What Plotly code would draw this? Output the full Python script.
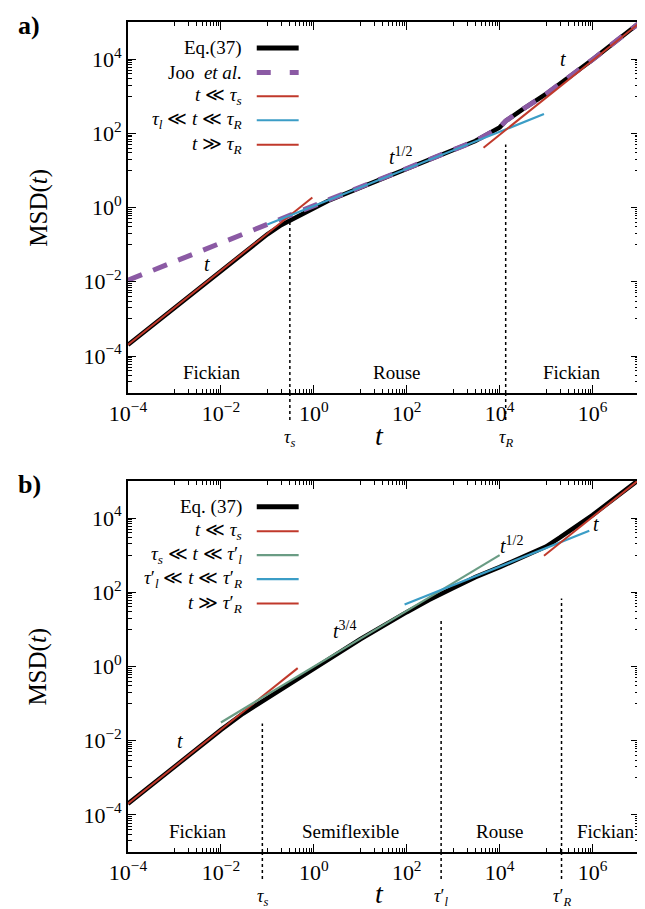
import numpy as np
import plotly.graph_objects as go

# ---------------- data ----------------
# panel a
t_eq_a   = [1e-4, 1e-3, 1e-2, 0.1, 0.2, 0.3, 0.5, 1, 2, 10, 100, 1e3, 3e3, 1e4, 1.35e4, 3e4, 1e5, 1e6, 1e7]
msd_eq_a = [2e-4, 2e-3, 2e-2, 0.19, 0.34, 0.44, 0.63, 0.97, 1.5, 3.45, 11, 34.5, 62, 145, 215, 430, 1150, 9700, 9.3e4]
t_joo    = [1e-4, 1e-3, 1e-2, 0.1, 1, 10, 100, 1e3, 3e3, 1e4, 1.35e4, 3e4, 1e5, 1e6, 1e7]
msd_joo  = [0.011, 0.035, 0.11, 0.35, 1.08, 3.45, 11, 34.5, 62, 145, 215, 430, 1150, 9700, 9.3e4]
t_short_a,  msd_short_a  = [1e-4, 0.93], [2e-4, 1.86]
t_rouse_a,  msd_rouse_a  = [0.1, 9e4], [0.35, 330]
t_long_a,   msd_long_a   = [4500, 1e7], [41, 9.2e4]
tau_a      = [0.305, 1.35e4]
tau_top_a  = [0.44, 50]
tau_lab_a  = ["<i>τ</i><sub><i>s</i></sub>", "<i>τ</i><sub><i>R</i></sub>"]
regions_a  = ["Fickian", "Rouse", "Fickian"]
region_t_a = [10**-2.2, 10**1.8, 10**5.55]
slope_lab_a = ["<i>t</i>", "<i>t</i><sup>1/2</sup>", "<i>t</i>"]
slope_t_a   = [10**-2.3, 10**1.86, 10**5.36]
slope_y_a   = [10**-1.53, 10**1.38, 10**4.0]
legend_a = ["Eq.(37)", "Joo  <i>et al.</i>", "<i>t</i> ≪ <i>τ</i><sub><i>s</i></sub>",
            "<i>τ</i><sub><i>l</i></sub> ≪ <i>t</i> ≪ <i>τ</i><sub><i>R</i></sub>",
            "<i>t</i> ≫ <i>τ</i><sub><i>R</i></sub>"]

# panel b
t_eq_b   = [1e-4, 1e-3, 1e-2, 0.03, 0.1, 0.3, 1, 10, 100, 300, 1e3, 3e3, 1e4, 3e4, 1e5, 2e5, 5e5, 1e6, 1e7]
msd_eq_b = [2e-4, 2e-3, 0.0195, 0.054, 0.14, 0.36, 0.92, 5.4, 29, 62, 130, 255, 475, 880, 1700, 3000, 6500, 12000, 1.08e5]
t_short_b, msd_short_b = [1e-4, 0.45], [2e-4, 0.9]
t_semi_b,  msd_semi_b  = [0.01, 1e4], [0.031, 1000]
t_rouse_b, msd_rouse_b = [90, 8.5e5], [46.5, 4520]
t_long_b,  msd_long_b  = [9e4, 1e7], [960, 1.07e5]
tau_b      = [0.078, 550, 2.15e5]
tau_top_b  = [0.029, 20, 68]
tau_lab_b  = ["<i>τ</i><sub><i>s</i></sub>", "<i>τ</i>′<sub><i>l</i></sub>", "<i>τ</i>′<sub><i>R</i></sub>"]
regions_b  = ["Fickian", "Semiflexible", "Rouse", "Fickian"]
region_t_b = [10**-2.5, 10**0.8, 10**4.0, 10**6.27]
slope_lab_b = ["<i>t</i>", "<i>t</i><sup>3/4</sup>", "<i>t</i><sup>1/2</sup>", "<i>t</i>"]
slope_t_b   = [10**-2.89, 10**0.65, 10**4.26, 10**6.08]
slope_y_b   = [10**-2.02, 10**0.99, 10**3.28, 10**3.85]
legend_b = ["Eq. (37)", "<i>t</i> ≪ <i>τ</i><sub><i>s</i></sub>",
            "<i>τ</i><sub><i>s</i></sub> ≪ <i>t</i> ≪ <i>τ</i>′<sub><i>l</i></sub>",
            "<i>τ</i>′<sub><i>l</i></sub> ≪ <i>t</i> ≪ <i>τ</i>′<sub><i>R</i></sub>",
            "<i>t</i> ≫ <i>τ</i>′<sub><i>R</i></sub>"]

major_exp = [-4, -2, 0, 2, 4, 6]
major_exp_y = [-4, -2, 0, 2, 4]

# ---------------- styling ----------------
BLACK, RED, BLUE, PURPLE, GREEN = "#000000", "#c0392b", "#3b9dc6", "#8b5aa4", "#6a9c84"
FONT = "Liberation Serif"
W, H = 645, 909
L, R = 120, 632
TOP_A, BOT_A = 12, 384
TOP_B, BOT_B = 472, 844

def py(p):
    return (BOT_B - p) / (BOT_B - TOP_A)

def pxx(p):
    return (p - L) / (R - L)

fig = go.Figure()

def line(x, y, color, width, xa, ya, dash=None):
    fig.add_trace(go.Scatter(x=x, y=y, mode="lines", xaxis=xa, yaxis=ya,
                             line=dict(color=color, width=width, dash=dash),
                             showlegend=False, hoverinfo="skip"))

# panel a
line(t_eq_a, msd_eq_a, BLACK, 4.5, "x", "y")
line(t_joo, msd_joo, PURPLE, 5, "x", "y", dash="15px,12px")
line(t_short_a, msd_short_a, RED, 2, "x", "y")
line(t_rouse_a, msd_rouse_a, BLUE, 2.2, "x", "y")
line(t_long_a, msd_long_a, RED, 2, "x", "y")
# panel b
line(t_eq_b, msd_eq_b, BLACK, 4.5, "x2", "y2")
line(t_short_b, msd_short_b, RED, 2, "x2", "y2")
line(t_semi_b, msd_semi_b, GREEN, 2.2, "x2", "y2")
line(t_rouse_b, msd_rouse_b, BLUE, 2.2, "x2", "y2")
line(t_long_b, msd_long_b, RED, 2, "x2", "y2")

shapes = []
annotations = []

def ann(**kw):
    kw.setdefault("showarrow", False)
    kw.setdefault("xanchor", "center")
    kw.setdefault("yanchor", "middle")
    annotations.append(kw)

def dotted(taus, tops, xref, yref, bottom_px, labels):
    for tau, top, lab in zip(taus, tops, labels):
        shapes.append(dict(type="line", xref=xref, yref=yref, x0=tau, x1=tau, y0=1e-5, y1=top,
                           line=dict(color="black", width=1.5, dash="dot")))
        shapes.append(dict(type="line", xref=xref, yref="paper", x0=tau, x1=tau,
                           y0=py(bottom_px), y1=py(bottom_px + 28),
                           line=dict(color="black", width=1.5, dash="dot")))
        ann(x=np.log10(tau), y=py(bottom_px + 46), xref=xref, yref="paper",
            text=lab, font=dict(family=FONT, size=18, color="black"))

dotted(tau_a, tau_top_a, "x", "y", BOT_A, tau_lab_a)
dotted(tau_b, tau_top_b, "x2", "y2", BOT_B, tau_lab_b)

def texts(labels, xs, ys, xref, yref, size):
    for lab, xv, yv in zip(labels, xs, ys):
        ann(x=np.log10(xv), y=np.log10(yv), xref=xref, yref=yref, text=lab,
            font=dict(family=FONT, size=size, color="black"))

texts(regions_a, region_t_a, [10**-4.45] * len(regions_a), "x", "y", 19)
texts(regions_b, region_t_b, [10**-4.45] * len(regions_b), "x2", "y2", 19)
texts(slope_lab_a, slope_t_a, slope_y_a, "x", "y", 20)
texts(slope_lab_b, slope_t_b, slope_y_b, "x2", "y2", 20)

# custom legends (text right-aligned, sample on the right)
def legend(labels, styles, rows_px):
    for lab, (col, wid, dash), rp in zip(labels, styles, rows_px):
        ann(x=pxx(236), y=py(rp), xref="paper", yref="paper", text=lab, xanchor="right",
            font=dict(family=FONT, size=19, color="black"))
        shapes.append(dict(type="line", xref="paper", yref="paper", x0=pxx(249), x1=pxx(291),
                           y0=py(rp), y1=py(rp), line=dict(color=col, width=wid, dash=dash)))

legend(legend_a, [(BLACK, 5, None), (PURPLE, 5, "14px,19px"), (RED, 2, None), (BLUE, 2.2, None), (RED, 2, None)],
       [38, 62.5, 86.5, 110.5, 135])
legend(legend_b, [(BLACK, 5, None), (RED, 2, None), (GREEN, 2.2, None), (BLUE, 2.2, None), (RED, 2, None)],
       [498, 522.5, 546.5, 570.5, 595])

# axis titles and panel labels
for ptop, pbot, lab in [(TOP_A, BOT_A, "a)"), (TOP_B, BOT_B, "b)")]:
    ann(x=pxx(30), y=py((ptop + pbot) / 2), xref="paper", yref="paper",
        text="MSD(<i>t</i>)", textangle=-90, font=dict(family=FONT, size=25, color="black"))
    ann(x=pxx(372), y=py(pbot + 42), xref="paper", yref="paper",
        text="<i>t</i>", font=dict(family=FONT, size=28, color="black"))
    ann(x=pxx(21), y=py(ptop + 4), xref="paper", yref="paper",
        text="<b>" + lab + "</b>", font=dict(family=FONT, size=26, color="black"))

def sup(e):
    return "10<sup>" + ("−" if e < 0 else "") + str(abs(e)) + "</sup>"

def minor_vals(exps):
    return [k * 10.0 ** e for e in exps for k in range(1, 10)]

def common(exps):
    return dict(type="log",
                tickvals=[10.0 ** e for e in exps], ticktext=[sup(e) for e in exps],
                ticks="inside", ticklen=8, tickwidth=1.2, tickcolor="black",
                showline=True, linecolor="black", linewidth=1.6, mirror="allticks",
                showgrid=False, zeroline=False,
                tickfont=dict(family=FONT, size=22, color="black"),
                minor=dict(tickvals=minor_vals([-5, -3, -1, 1, 3, 5]), ticks="inside", ticklen=4,
                           tickwidth=1, tickcolor="black", showgrid=False))

def xax(anchor):
    d = common(major_exp)
    d.update(range=[-4, 7], domain=[0, 1], anchor=anchor)
    return d

def yax(anchor, dom):
    d = common(major_exp_y)
    d.update(range=[-5, 5], domain=dom, anchor=anchor)
    return d

fig.update_layout(
    width=W, height=H,
    margin=dict(l=L, r=W - R, t=TOP_A, b=H - BOT_B, pad=0),
    paper_bgcolor="white", plot_bgcolor="white",
    xaxis=xax("y"), yaxis=yax("x", [py(BOT_A), 1]),
    xaxis2=xax("y2"), yaxis2=yax("x2", [0, py(TOP_B)]),
    shapes=shapes, annotations=annotations,
    showlegend=False,
)

fig.write_html("out.html")
